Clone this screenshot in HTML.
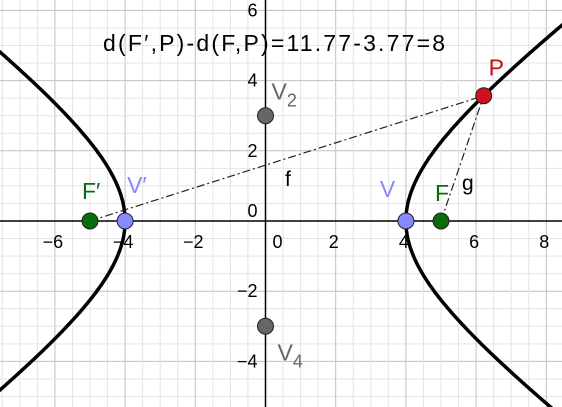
<!DOCTYPE html>
<html><head><meta charset="utf-8"><style>
html,body{margin:0;background:#fff;overflow:hidden;width:562px;height:407px}
svg{display:block;font-family:"Liberation Sans",sans-serif}
</style></head><body>
<svg id="c" width="562" height="407"></svg>
<script>
const xTicks=[-6,-4,-2,0,2,4,6,8];
const yTicks=[-4,-2,0,2,4,6];
const a=4,b=3,c=5;
const Px=6.216;
const title="d(F′,P)-d(F,P)=11.77-3.77=8";
const pts=[
 {n:'F′',x:-5,y:0,col:'#0a6b0a',lc:'#0a6b0a',dx:-8,dy:-22,name:'focus-f-prime'},
 {n:'V′',x:-4,y:0,col:'#8888ff',lc:'#8888ff',dx:2,dy:-28,name:'vertex-v-prime'},
 {n:'V',x:4,y:0,col:'#8888ff',lc:'#8888ff',dx:-26,dy:-24,name:'vertex-v'},
 {n:'F',x:5,y:0,col:'#0a6b0a',lc:'#0a6b0a',dx:-6,dy:-20,name:'focus-f'},
 {n:'V2',x:0,y:3,col:'#666',lc:'#666',dx:6,dy:-16,name:'point-v2'},
 {n:'V4',x:0,y:-3,col:'#666',lc:'#666',dx:12,dy:34,name:'point-v4'}
];
const X=v=>265.5+v*35.1, Y=v=>221-v*35.1;
const s=document.getElementById('c'),NS='http://www.w3.org/2000/svg';
function mk(t,at,p){const e=document.createElementNS(NS,t);for(const k in at)e.setAttribute(k,at[k]);(p||s).appendChild(e);return e;}
for(let v=-8;v<=9;v+=0.5){
 const major=Math.abs(v%2)<1e-9;
 let e=mk('line',{x1:X(v),x2:X(v),y1:0,y2:407,stroke:major?'#c0c0c0':'#e4e4e4','stroke-width':1});
 
 e=mk('line',{x1:0,x2:562,y1:Y(v),y2:Y(v),stroke:major?'#c0c0c0':'#e4e4e4','stroke-width':1});
 
}
let ax=mk('line',{x1:0,x2:562,y1:Y(0),y2:Y(0),stroke:'#000','stroke-width':1.5});

ax=mk('line',{x1:X(0),x2:X(0),y1:0,y2:407,stroke:'#000','stroke-width':1.5});

xTicks.forEach(v=>{const t=mk('text',{x:X(v)+(v===0?12:-2),y:Y(0)+27,'font-size':18,'text-anchor':'middle'});t.textContent=v<0?'−'+(-v):v;
 });
yTicks.forEach(v=>{const t=mk('text',{x:X(0)-8,y:Y(v)+(v===0?-4:6),'font-size':18,'text-anchor':'end'});t.textContent=v<0?'−'+(-v):v;
 });
[1,-1].forEach(sg=>{let d='';for(let y=-7;y<=7.001;y+=0.05){const x=sg*a*Math.sqrt(1+y*y/(b*b));d+=(d?'L':'M')+X(x).toFixed(1)+','+Y(y).toFixed(1);}
 const p=mk('path',{d:d,fill:'none',stroke:'#000','stroke-width':3.5});
 });
const Py=b*Math.sqrt(Px*Px/(a*a)-1);
[[-c,'line-f'],[c,'line-g']].forEach(([fx,n])=>{const l=mk('line',{x1:X(fx),y1:Y(0),x2:X(Px),y2:Y(Py),stroke:'#222','stroke-width':1.2,'stroke-dasharray':'8,3,2,3'});
 });
let t=mk('text',{x:285,y:186,'font-size':21});t.textContent='f';
t=mk('text',{x:462,y:190,'font-size':21});t.textContent='g';
pts.forEach(p=>{const ci=mk('circle',{cx:X(p.x),cy:Y(p.y),r:8,fill:p.col,stroke:'#222','stroke-width':1});
 
 const tx=mk('text',{x:X(p.x)+p.dx,y:Y(p.y)+p.dy,'font-size':23,fill:p.lc});
 
 if(p.n.length===2&&/\d/.test(p.n[1])){tx.textContent=p.n[0];const sp=mk('tspan',{'font-size':18,dy:7},tx);sp.textContent=p.n[1];}
 else tx.textContent=p.n;});
const pc=mk('circle',{cx:X(Px),cy:Y(Py),r:8,fill:'#d01020',stroke:'#222','stroke-width':1});

t=mk('text',{x:X(Px)+5,y:Y(Py)-20,'font-size':23,fill:'#c0101a'});t.textContent='P';

t=mk('text',{x:274,y:51,'font-size':23,'text-anchor':'middle',textLength:342});t.textContent=title;

</script>
</body></html>
